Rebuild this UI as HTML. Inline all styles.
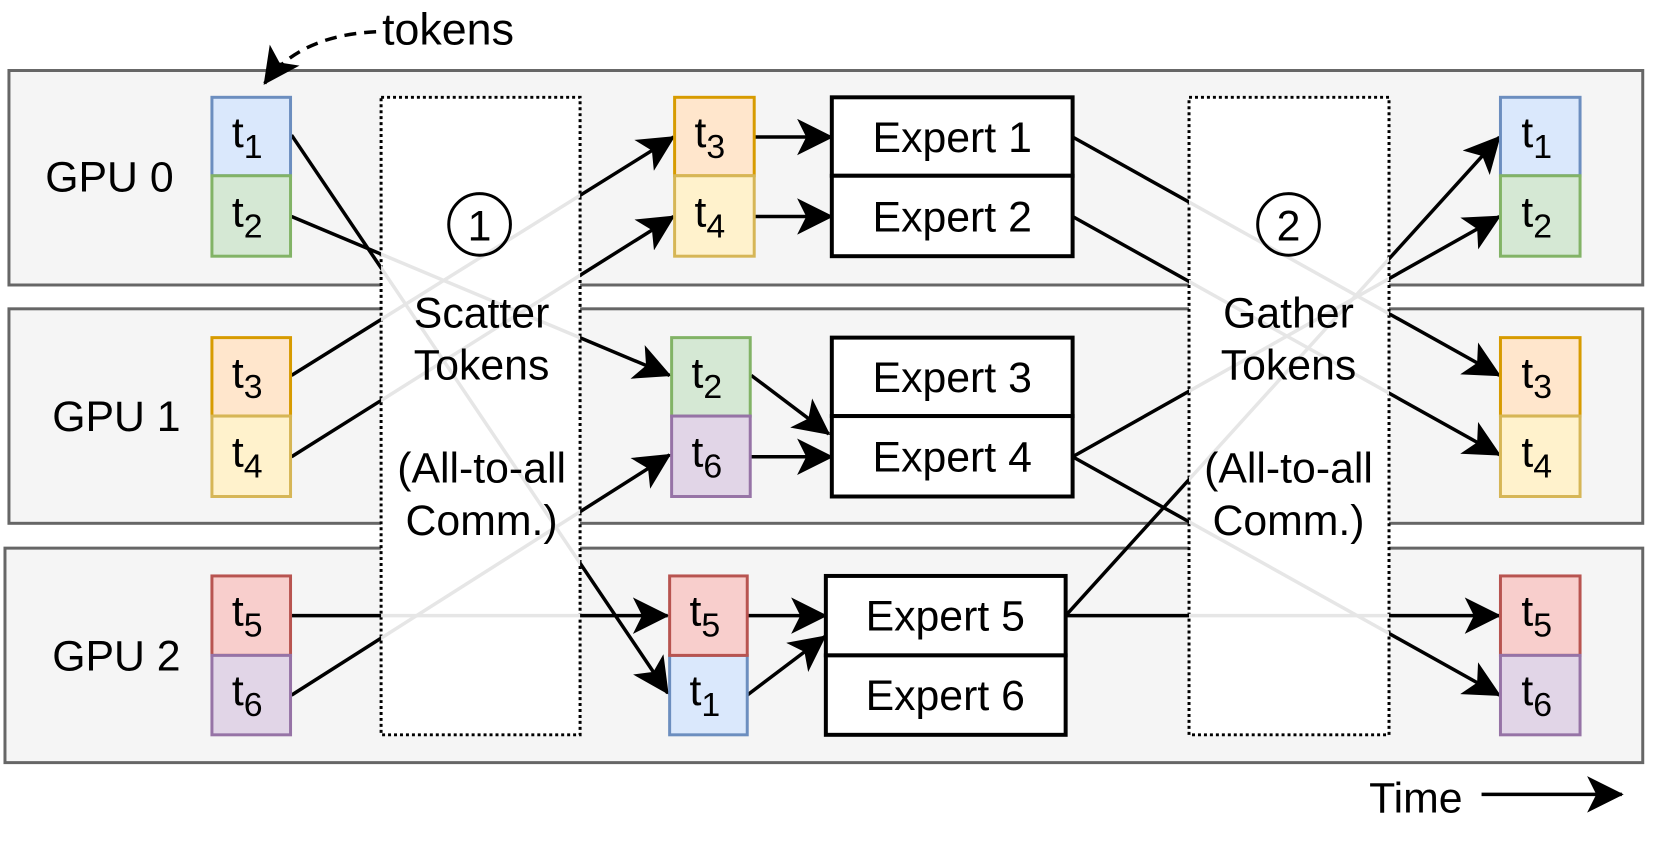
<!DOCTYPE html>
<html><head><meta charset="utf-8"><style>
html,body{margin:0;padding:0;background:#fff;width:1661px;height:848px;overflow:hidden}
svg text{font-family:"Liberation Sans",Arial,sans-serif;fill:#000}
</style></head><body>
<svg width="1661" height="848" viewBox="0 0 1661 848" xmlns="http://www.w3.org/2000/svg">
<defs>
<marker id="ah" viewBox="0 0 20 20" refX="19" refY="10" markerWidth="10.5" markerHeight="10.5" markerUnits="strokeWidth" orient="auto">
<path d="M0,0 L20,10 L0,20 L5,10 Z" fill="#000"/></marker>
<mask id="m" maskUnits="userSpaceOnUse" x="0" y="0" width="1661" height="848">
<rect x="0" y="0" width="1661" height="848" fill="#fff"/>
<rect x="383" y="98" width="200" height="642" fill="#000"/>
<rect x="1195" y="98" width="201" height="642" fill="#000"/>
</mask>
</defs>
<g transform="scale(0.995,0.993)">
<!-- panels -->
<g fill="#f5f5f5" stroke="#666" stroke-width="3">
<rect x="9" y="71" width="1642" height="216"/>
<rect x="9" y="311" width="1642" height="216"/>
<rect x="5" y="552" width="1646" height="216"/>
</g>
<!-- dotted boxes -->
<g fill="#fff" stroke="#000" stroke-width="3" stroke-dasharray="3,3">
<rect x="383" y="98" width="200" height="642"/>
<rect x="1195" y="98" width="201" height="642"/>
</g>
<!-- connectors -->
<g stroke-width="3.5" fill="none">
<g stroke="#e6e6e6">
<path d="M293,136 L671,698"/><path d="M293,218 L673,378"/><path d="M293,378 L677,138"/>
<path d="M293,460 L677,218"/><path d="M293,620 L671,620"/><path d="M293,700 L673,458"/>
<path d="M1078,138 L1507,378"/><path d="M1078,218 L1507,458"/><path d="M1078,460 L1507,218"/>
<path d="M1078,460 L1507,700"/><path d="M1071,620 L1507,138"/><path d="M1071,620 L1507,620"/>
</g>
<g stroke="#000" mask="url(#m)">
<path d="M293,136 L671,698" marker-end="url(#ah)"/><path d="M293,218 L673,378" marker-end="url(#ah)"/><path d="M293,378 L677,138" marker-end="url(#ah)"/>
<path d="M293,460 L677,218" marker-end="url(#ah)"/><path d="M293,620 L671,620" marker-end="url(#ah)"/><path d="M293,700 L673,458" marker-end="url(#ah)"/>
<path d="M1078,138 L1507,378" marker-end="url(#ah)"/><path d="M1078,218 L1507,458" marker-end="url(#ah)"/><path d="M1078,460 L1507,218" marker-end="url(#ah)"/>
<path d="M1078,460 L1507,700" marker-end="url(#ah)"/><path d="M1071,620 L1507,138" marker-end="url(#ah)"/><path d="M1071,620 L1507,620" marker-end="url(#ah)"/>
</g>
<g stroke="#000">
<path d="M759,138 L836,138" marker-end="url(#ah)"/>
<path d="M759,218 L836,218" marker-end="url(#ah)"/>
<path d="M755,378 L833,437" marker-end="url(#ah)"/>
<path d="M755,460 L836,460" marker-end="url(#ah)"/>
<path d="M751,620 L830,620" marker-end="url(#ah)"/>
<path d="M751,700 L829,641" marker-end="url(#ah)"/>
<path d="M1489,800 L1630,800" marker-end="url(#ah)"/>
<path d="M378,32 C330,34 290,50 266,84" stroke-dasharray="12,8" marker-end="url(#ah)"/>
</g>
</g>
<circle cx="482" cy="226" r="31" fill="none" stroke="#000" stroke-width="3"/>
<circle cx="1295" cy="226" r="31" fill="none" stroke="#000" stroke-width="3"/>
<g font-size="43" text-anchor="middle">
<text x="482" y="242">1</text><text x="1295" y="242">2</text>
<text x="484" y="330">Scatter</text><text x="484" y="382">Tokens</text>
<text x="484" y="486">(All-to-all</text><text x="484" y="539">Comm.)</text>
<text x="1295" y="330">Gather</text><text x="1295" y="382">Tokens</text>
<text x="1295" y="486">(All-to-all</text><text x="1295" y="539">Comm.)</text>
</g>
<!-- experts -->
<g fill="#fff" stroke="#000" stroke-width="4">
<rect x="836" y="98" width="242" height="79"/><rect x="836" y="177" width="242" height="81"/>
<rect x="836" y="340" width="242" height="79"/><rect x="836" y="419" width="242" height="81"/>
<rect x="830" y="580" width="241" height="80"/><rect x="830" y="660" width="241" height="80"/>
</g>
<g font-size="43" text-anchor="middle">
<text x="957" y="153">Expert 1</text><text x="957" y="233">Expert 2</text>
<text x="957" y="395">Expert 3</text><text x="957" y="475">Expert 4</text>
<text x="950" y="635">Expert 5</text><text x="950" y="715">Expert 6</text>
</g>
<!-- tokens -->
<g stroke-width="3">
<g fill="#dae8fc" stroke="#6c8ebf"><rect x="213" y="98" width="79" height="79"/><rect x="673" y="660" width="78" height="80"/><rect x="1508" y="98" width="80" height="79"/></g>
<g fill="#d5e8d4" stroke="#82b366"><rect x="213" y="177" width="79" height="81"/><rect x="675" y="340" width="79" height="79"/><rect x="1508" y="177" width="80" height="81"/></g>
<g fill="#ffe6cc" stroke="#d79b00"><rect x="213" y="340" width="79" height="79"/><rect x="678" y="98" width="80" height="79"/><rect x="1508" y="340" width="80" height="79"/></g>
<g fill="#fff2cc" stroke="#d6b656"><rect x="213" y="419" width="79" height="81"/><rect x="678" y="177" width="80" height="81"/><rect x="1508" y="419" width="80" height="81"/></g>
<g fill="#f8cecc" stroke="#b85450"><rect x="213" y="580" width="79" height="80"/><rect x="673" y="580" width="78" height="80"/><rect x="1508" y="580" width="80" height="80"/></g>
<g fill="#e1d5e7" stroke="#9673a6"><rect x="213" y="660" width="79" height="80"/><rect x="675" y="419" width="79" height="81"/><rect x="1508" y="660" width="80" height="80"/></g>
</g>
<g font-size="43">
<text x="233" y="148">t<tspan font-size="34" dy="11">1</tspan></text>
<text x="233" y="228">t<tspan font-size="34" dy="11">2</tspan></text>
<text x="233" y="390">t<tspan font-size="34" dy="11">3</tspan></text>
<text x="233" y="470">t<tspan font-size="34" dy="11">4</tspan></text>
<text x="233" y="630">t<tspan font-size="34" dy="11">5</tspan></text>
<text x="233" y="710">t<tspan font-size="34" dy="11">6</tspan></text>
<text x="698" y="148">t<tspan font-size="34" dy="11">3</tspan></text>
<text x="698" y="228">t<tspan font-size="34" dy="11">4</tspan></text>
<text x="695" y="390">t<tspan font-size="34" dy="11">2</tspan></text>
<text x="695" y="470">t<tspan font-size="34" dy="11">6</tspan></text>
<text x="693" y="630">t<tspan font-size="34" dy="11">5</tspan></text>
<text x="693" y="710">t<tspan font-size="34" dy="11">1</tspan></text>
<text x="1529" y="148">t<tspan font-size="34" dy="11">1</tspan></text>
<text x="1529" y="228">t<tspan font-size="34" dy="11">2</tspan></text>
<text x="1529" y="390">t<tspan font-size="34" dy="11">3</tspan></text>
<text x="1529" y="470">t<tspan font-size="34" dy="11">4</tspan></text>
<text x="1529" y="630">t<tspan font-size="34" dy="11">5</tspan></text>
<text x="1529" y="710">t<tspan font-size="34" dy="11">6</tspan></text>
</g>
<g font-size="43" text-anchor="middle">
<text x="110" y="193">GPU 0</text><text x="117" y="434">GPU 1</text><text x="117" y="675">GPU 2</text>
</g>
<text x="384" y="45" font-size="45">tokens</text>
<text x="1376" y="818" font-size="43">Time</text>
</g>
</svg>
</body></html>
